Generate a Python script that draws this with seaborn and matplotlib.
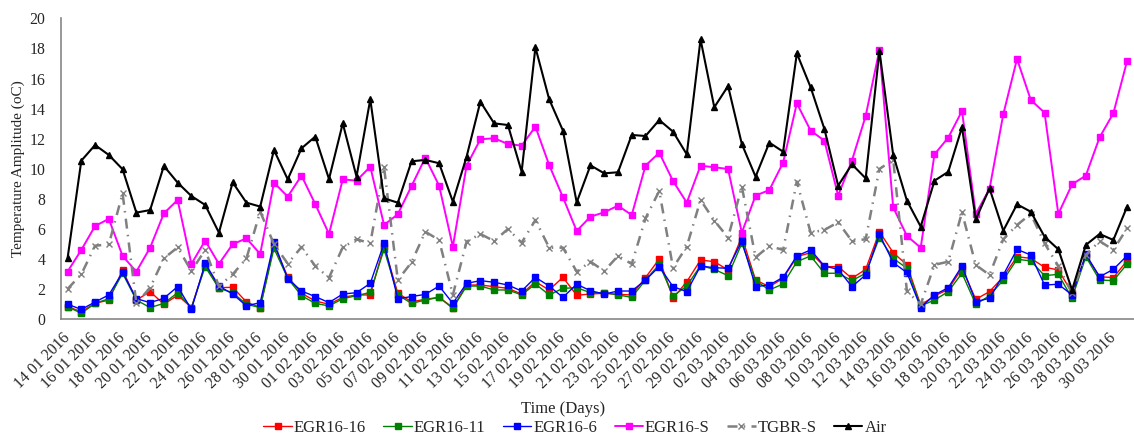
import numpy as np
import pandas as pd
import seaborn as sns
import matplotlib.pyplot as plt

# daily categories, 14 Jan to 31 Mar 2016
days = pd.date_range('2016-01-14', '2016-03-31', freq='D')
day_labels = list(days.strftime('%d %m %Y'))

# temperature amplitude (oC)
egr16_16 = [0.84, 0.51, 1.06, 1.28, 3.28, 1.28, 1.84, 1.00, 1.60, 0.78, 3.61, 2.10, 2.13,
            1.15, 0.78, 4.94, 2.83, 1.73, 1.22, 1.00, 1.46, 1.62, 1.62, 4.87, 1.73, 1.17,
            1.33, 1.46, 0.78, 2.28, 2.28, 2.17, 2.06, 1.68, 2.50, 1.95, 2.79, 1.60, 1.68,
            1.73, 1.66, 1.62, 2.77, 4.01, 1.40, 2.50, 3.94, 3.83, 3.28, 5.49, 2.61, 2.17,
            2.72, 4.16, 4.43, 3.50, 3.50, 2.72, 3.32, 5.82, 4.43, 3.61, 0.95, 1.55, 1.99,
            3.39, 1.33, 1.84, 2.83, 4.16, 4.05, 3.46, 3.28, 1.77, 4.23, 2.83, 2.77, 3.90]
egr16_11 = [0.84, 0.40, 1.06, 1.37, 3.06, 1.28, 0.78, 1.06, 1.77, 0.78, 3.50, 2.06, 1.77,
            1.00, 0.78, 4.72, 2.72, 1.57, 1.06, 0.89, 1.37, 1.57, 1.79, 4.65, 1.62, 1.06,
            1.28, 1.46, 0.73, 2.21, 2.21, 1.95, 1.95, 1.62, 2.35, 1.62, 2.06, 2.10, 1.77,
            1.77, 1.62, 1.46, 2.61, 3.65, 1.55, 2.21, 3.57, 3.32, 2.90, 5.05, 2.57, 1.95,
            2.35, 3.83, 4.21, 3.06, 3.06, 2.57, 3.06, 5.43, 4.05, 3.39, 0.89, 1.28, 1.84,
            3.06, 1.00, 1.57, 2.61, 3.99, 3.88, 2.90, 2.99, 1.40, 4.16, 2.61, 2.57, 3.68]
egr16_6 = [1.00, 0.66, 1.15, 1.62, 3.12, 1.37, 1.11, 1.40, 2.17, 0.66, 3.72, 2.21, 1.68,
           0.89, 1.11, 5.12, 2.70, 1.88, 1.51, 1.11, 1.68, 1.77, 2.39, 5.05, 1.37, 1.51,
           1.66, 2.21, 1.06, 2.39, 2.57, 2.46, 2.28, 1.88, 2.79, 2.21, 1.46, 2.33, 1.90,
           1.68, 1.88, 1.88, 2.61, 3.50, 2.17, 1.84, 3.54, 3.43, 3.39, 5.20, 2.17, 2.28,
           2.79, 4.21, 4.61, 3.54, 3.32, 2.17, 2.95, 5.65, 3.77, 3.10, 0.78, 1.62, 2.10,
           3.54, 1.17, 1.40, 2.95, 4.65, 4.27, 2.28, 2.33, 1.62, 4.32, 2.83, 3.32, 4.23]
egr16_s = [3.17, 4.61, 6.20, 6.67, 4.21, 3.17, 4.76, 7.04, 7.93, 3.68, 5.23, 3.68, 4.99,
           5.38, 4.34, 9.08, 8.15, 9.55, 7.66, 5.67, 9.30, 9.21, 10.14, 6.27, 6.98, 8.86,
           10.74, 8.88, 4.83, 10.21, 11.96, 12.03, 11.65, 11.54, 12.80, 10.25, 8.11, 5.87, 6.82,
           7.11, 7.55, 6.93, 10.21, 11.07, 9.19, 7.75, 10.21, 10.10, 9.99, 5.76, 8.22, 8.59,
           10.41, 14.35, 12.54, 11.87, 8.22, 10.54, 13.51, 17.90, 7.44, 5.54, 4.76, 10.96, 12.07,
           13.84, 7.00, 8.66, 13.62, 17.30, 14.57, 13.73, 7.00, 8.97, 9.55, 12.09, 13.69, 17.17]
tgbr_s = [2.02, 2.99, 4.89, 4.98, 8.37, 1.06, 2.10, 4.05, 4.78, 3.21, 4.61, 2.21, 2.99,
          4.05, 7.15, 5.00, 3.70, 4.80, 3.54, 2.77, 4.78, 5.32, 5.05, 10.10, 2.61, 3.79,
          5.82, 5.27, 1.62, 5.16, 5.67, 5.20, 6.00, 5.09, 6.60, 4.76, 4.76, 3.17, 3.83,
          3.21, 4.21, 3.68, 6.71, 8.53, 3.43, 4.83, 7.93, 6.56, 5.43, 8.82, 4.12, 4.87,
          4.61, 9.15, 5.76, 5.94, 6.45, 5.20, 5.32, 9.99, 10.60, 1.85, 1.00, 3.62, 3.83,
          7.11, 3.61, 2.95, 5.32, 6.27, 7.00, 5.05, 3.54, 1.73, 4.27, 5.20, 4.61, 6.05]
air = [4.05, 10.54, 11.58, 10.92, 9.97, 7.09, 7.26, 10.19, 9.08, 8.19, 7.60, 5.76, 9.10,
       7.75, 7.49, 11.25, 9.30, 11.36, 12.14, 9.32, 13.02, 9.48, 14.62, 8.04, 7.75, 10.50,
       10.59, 10.37, 7.82, 10.81, 14.46, 13.02, 12.91, 9.81, 18.07, 14.62, 12.54, 7.77, 10.23,
       9.70, 9.77, 12.25, 12.18, 13.24, 12.47, 10.96, 18.60, 14.09, 15.50, 11.65, 9.48, 11.74,
       11.14, 17.67, 15.42, 12.65, 8.88, 10.30, 9.37, 17.83, 10.92, 7.88, 6.16, 9.21, 9.80,
       12.76, 6.64, 8.70, 5.89, 7.64, 7.15, 5.49, 4.65, 1.95, 4.94, 5.67, 5.27, 7.49]

series_names = ['EGR16-16', 'EGR16-11', 'EGR16-6', 'EGR16-S', 'TGBR-S', 'Air']

df = pd.DataFrame({'day': np.arange(len(days)),
                   'EGR16-16': egr16_16, 'EGR16-11': egr16_11, 'EGR16-6': egr16_6,
                   'EGR16-S': egr16_s, 'TGBR-S': tgbr_s, 'Air': air})
df = df.melt(id_vars='day', var_name='series', value_name='amp')

styles = {
    'EGR16-16': dict(color='#FF0000', marker='s', markersize=4.0, linewidth=1.0),
    'EGR16-11': dict(color='#008000', marker='s', markersize=4.0, linewidth=1.0),
    'EGR16-6': dict(color='#0000FF', marker='s', markersize=4.0, linewidth=1.0),
    'EGR16-S': dict(color='#FF00FF', marker='s', markersize=5.0, linewidth=1.4),
    'TGBR-S': dict(color='#808080', marker='x', markersize=4.0, linewidth=1.8,
                   linestyle=(0, (4, 2.5, 0.6, 2.5))),
    'Air': dict(color='black', marker='^', markersize=4.5, linewidth=1.5),
}

sns.set_style('white')
plt.rcParams['font.family'] = ['Liberation Serif', 'DejaVu Serif']

fig = plt.figure(figsize=(11.34, 4.37), dpi=100)
ax = fig.add_axes([0.0535, 0.2693, 0.9465, 0.6888])

for name in series_names:
    st = styles[name]
    sns.lineplot(data=df[df['series'] == name], x='day', y='amp', ax=ax,
                 label=name, markeredgecolor=st['color'], markeredgewidth=1.0, **st)

ax.set_xlim(-0.5, 77.3)
ax.set_ylim(0, 20)
ax.set_yticks(np.arange(0, 21, 2))

# labels every second day, tick marks between categories
ax.set_xticks(np.arange(0, len(days), 2))
ax.set_xticklabels(day_labels[::2], rotation=45, ha='right', va='center',
                   rotation_mode='anchor')
ax.set_xticks(np.arange(-0.5, len(days), 2), minor=True)
ax.tick_params(axis='x', which='major', length=0, pad=12, labelsize=11.3)
ax.tick_params(axis='x', which='minor', length=5, width=1, color='#868686', direction='out')
ax.tick_params(axis='y', length=5, width=1, color='#868686', direction='out', pad=6, labelsize=11.3)

for side in ['top', 'right']:
    ax.spines[side].set_visible(False)
for side in ['left', 'bottom']:
    ax.spines[side].set_color('#868686')
    ax.spines[side].set_linewidth(1.2)

ax.set_xlabel('Time (Days)', fontsize=12)
ax.xaxis.set_label_coords(0.468, -0.272)
ax.set_ylabel('Temperature Amplitude (oC)', fontsize=11)
ax.yaxis.set_label_coords(-0.033, 0.5)

ax.get_legend().remove()
handles, labels = ax.get_legend_handles_labels()
fig.legend(handles, labels, loc='center', bbox_to_anchor=(0.507, 0.02), ncol=6,
           frameon=False, fontsize=12, handlelength=1.7, columnspacing=1.05,
           handletextpad=0.12)

fig.savefig('out.png', dpi=100)
